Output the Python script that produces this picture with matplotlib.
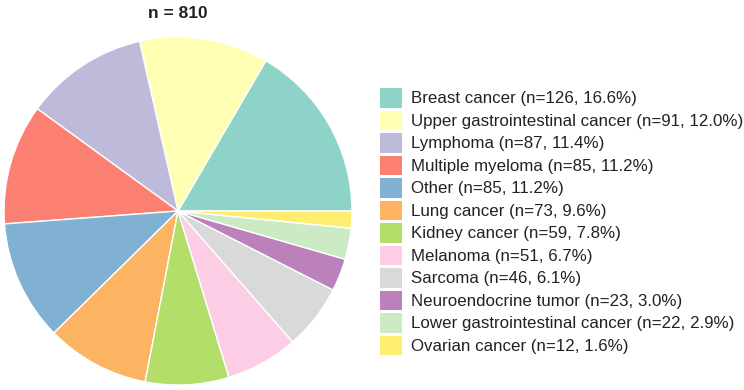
import matplotlib

matplotlib.use("Agg")
import matplotlib.pyplot as plt
from matplotlib.patches import Patch

plt.rcParams["font.family"] = ["Liberation Sans", "DejaVu Sans"]

W, H = 744, 390

categories = ["Breast cancer", "Upper gastrointestinal cancer", "Lymphoma",
              "Multiple myeloma", "Other", "Lung cancer", "Kidney cancer",
              "Melanoma", "Sarcoma", "Neuroendocrine tumor",
              "Lower gastrointestinal cancer", "Ovarian cancer"]
counts = [126, 91, 87, 85, 85, 73, 59, 51, 46, 23, 22, 12]
title = "n = 810"

colors = list(plt.cm.Set3.colors)[:len(counts)]
total = sum(counts)
labels = [f"{c} (n={n}, {100 * n / total:.1f}%)" for c, n in zip(categories, counts)]

fig = plt.figure(figsize=(W / 100, H / 100), dpi=100)

# pie axes: centre ~ (178, 211) px, radius ~174 px
r_px = 174
cx, cy = 178, 211
lim = 1.01
side = 2 * r_px * lim
ax = fig.add_axes([(cx - side / 2) / W, (H - cy - side / 2) / H, side / W, side / H])
wedges, _ = ax.pie(counts, colors=colors, startangle=0, counterclock=True,
                   wedgeprops=dict(edgecolor="white", linewidth=1.0))
ax.set_xlim(-lim, lim)
ax.set_ylim(-lim, lim)
ax.set_aspect("equal")
ax.axis("off")

fig.text(cx / W, 1 - 13 / H, title, ha="center", va="center",
         fontsize=12.5, fontweight="bold", color="#222222")

handles = [Patch(facecolor=c, edgecolor="none") for c in colors]
fs = 12.2
fpx = fs * 100 / 72
fig.legend(handles, labels, loc="upper left", frameon=False,
           bbox_to_anchor=(380 / W, 1 - 88 / H), borderaxespad=0, borderpad=0,
           fontsize=fs, handlelength=22 / fpx, handleheight=1.394,
           handletextpad=9 / fpx, labelspacing=3 / fpx, labelcolor="#222222")

fig.savefig("out.png", dpi=100, facecolor="white")
